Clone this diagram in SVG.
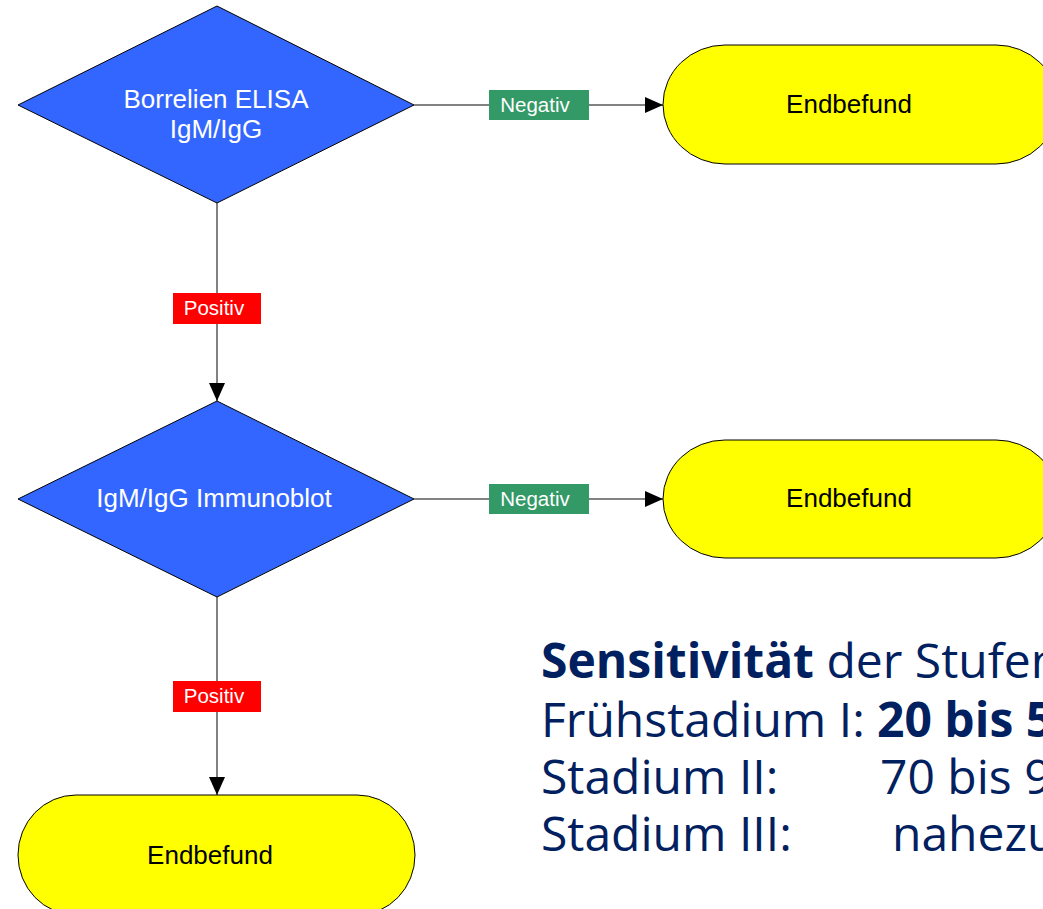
<svg xmlns="http://www.w3.org/2000/svg" width="1043" height="909" viewBox="0 0 1043 909">
<defs>
<style>
.dia{fill:#3366FF;stroke:#000;stroke-width:1}
.term{fill:#FFFF00;stroke:#000;stroke-width:1}
.wt{font-family:"Liberation Sans",Arial,sans-serif;font-size:26px;fill:#fff;text-anchor:middle}
.bt{font-family:"Liberation Sans",Arial,sans-serif;font-size:26px;fill:#000;text-anchor:middle}
.conn{stroke:#595959;stroke-width:1.5;fill:none;marker-end:url(#arr)}
.neg{fill:#339966}
.pos{fill:#FF0000}
.lt{font-family:"Liberation Sans",Arial,sans-serif;font-size:20.5px;fill:#fff;text-anchor:middle}
.big{font-family:"Open Sans","Noto Sans",sans-serif;font-size:48px;fill:#002060}
.b{font-weight:bold}
</style>
<marker id="arr" markerUnits="userSpaceOnUse" markerWidth="18" markerHeight="16" refX="18" refY="8" orient="auto">
<path d="M0,0 L18,8 L0,16 Z" fill="#000"/>
</marker>
</defs>
<g id="connectors">
<line class="conn" x1="414" y1="105" x2="663" y2="105"/>
<line class="conn" x1="217" y1="203" x2="217" y2="401"/>
<line class="conn" x1="414" y1="499" x2="663" y2="499"/>
<line class="conn" x1="217" y1="597" x2="217" y2="795"/>
<rect class="neg" x="489" y="90" width="100" height="30"/>
<text class="lt" x="535" y="112">Negativ</text>
<rect class="pos" x="173" y="293" width="88" height="31"/>
<text class="lt" x="214" y="315">Positiv</text>
<rect class="neg" x="489" y="484" width="100" height="30"/>
<text class="lt" x="535" y="506">Negativ</text>
<rect class="pos" x="173" y="681" width="88" height="31"/>
<text class="lt" x="214" y="703">Positiv</text>
</g>
<g id="elisa">
<polygon class="dia" points="217,6 414,105 217,203 18,105"/>
<text class="wt" x="216" y="108">Borrelien ELISA</text>
<text class="wt" x="216" y="138">IgM/IgG</text>
</g>
<g id="immunoblot">
<polygon class="dia" points="217,401 414,499 217,597 18,499"/>
<text class="wt" x="214" y="507">IgM/IgG Immunoblot</text>
</g>
<g id="end1">
<rect class="term" x="663" y="45" width="395" height="119" rx="62" ry="59.5"/>
<text class="bt" x="849" y="113">Endbefund</text>
</g>
<g id="end2">
<rect class="term" x="663" y="440" width="395" height="118" rx="62" ry="59"/>
<text class="bt" x="849" y="507">Endbefund</text>
</g>
<g id="end3">
<rect class="term" x="18" y="795" width="397" height="120" rx="58" ry="60"/>
<text class="bt" x="210" y="864">Endbefund</text>
</g>
<g id="sensitivity">
<text class="big"><tspan x="541" y="678" class="b">Sensitivität</tspan><tspan> der Stufen</tspan><tspan x="541" y="737">Frühstadium I: </tspan><tspan class="b" x="877" y="737">20 bis 5</tspan><tspan x="541" y="794">Stadium II:</tspan><tspan x="880" y="794">70 bis 9</tspan><tspan x="541" y="851">Stadium III:</tspan><tspan x="892" y="851">nahezu</tspan></text>
</g>
</svg>
